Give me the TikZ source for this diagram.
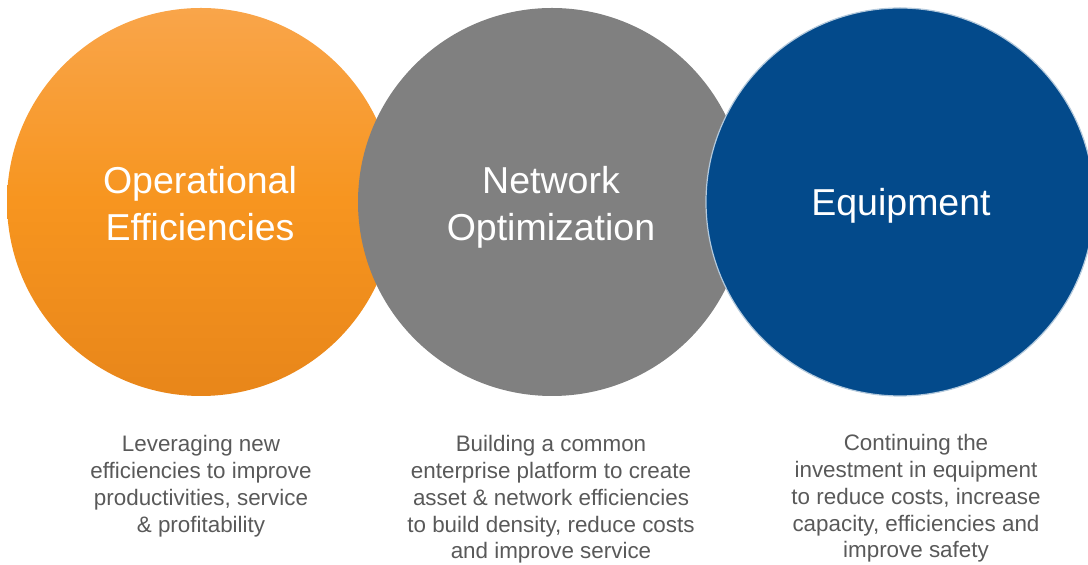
\documentclass[tikz,border=0pt]{standalone}
\usepackage{fontspec}
\setmainfont{Liberation Sans}
\usetikzlibrary{positioning}
\definecolor{optop}{HTML}{F9A54A}
\definecolor{opmid}{HTML}{F7951F}
\definecolor{opbot}{HTML}{E8861A}
\definecolor{netgray}{HTML}{808080}
\definecolor{eqblue}{HTML}{034A8B}
\definecolor{blurbgray}{HTML}{595959}
\tikzset{
  bubble/.style={circle,minimum size=194pt,inner sep=0pt},
  bubbletitle/.style={anchor=north,inner sep=0pt,text=white,align=center,font=\fontsize{18.75}{23.5}\selectfont},
  blurb/.style={anchor=north,inner sep=0pt,text=blurbgray,align=center,font=\fontsize{11.2}{13.4}\selectfont}
}

\begin{document}
\begin{tikzpicture}[x=0.5pt,y=-0.5pt]
            \useasboundingbox (0,0) rectangle (1088,565);
            % circles, left to right, each one over the previous
            \node[bubble,top color=optop,bottom color=opbot,middle color=opmid] (opcirc) at (201,202) {};
            \node[bubble,fill=netgray] (netcirc) at (552,202) {};
            \node[bubble,fill=eqblue,draw=white!70!eqblue,line width=0.6pt] (eqcirc) at (900,202) {};
            \node[bubbletitle] (optitle) at (200,166) {Operational\\Efficiencies};
            \node[bubbletitle] (nettitle) at (551,166) {Network\\Optimization};
            \node[bubbletitle] (eqtitle) at (901,188) {Equipment};
            % text under the circles
            \node[blurb] (opblurb) at (201,435) {Leveraging new\\efficiencies to improve\\productivities, service\\\& profitability};
            \node[blurb] (netblurb) at (551,435) {Building a common\\enterprise platform to create\\asset \& network efficiencies\\to build density, reduce costs\\and improve service};
            \node[blurb] (eqblurb) at (916,434) {Continuing the\\investment in equipment\\to reduce costs, increase\\capacity, efficiencies and\\improve safety};
        \end{tikzpicture}
\end{document}
